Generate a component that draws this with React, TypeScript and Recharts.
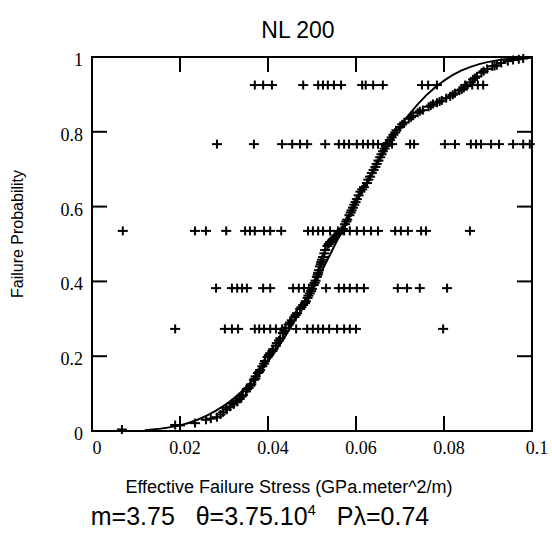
import React from "react";
import { ComposedChart, XAxis, YAxis, Scatter, Line } from "recharts";

// ---- data ----
const xTicks = [0, 0.02, 0.04, 0.06, 0.08, 0.1];
const xTickLabels = ["0", "0.02", "0.04", "0.06", "0.08", "0.1"];
const yTicks = [0, 0.2, 0.4, 0.6, 0.8, 1];
const yTickLabels = ["0", "0.2", "0.4", "0.6", "0.8", "1"];
const xInnerTicks = [0.02, 0.04, 0.06, 0.08];
const yInnerTicks = [0.2, 0.4, 0.6, 0.8];
const xDomain = [0, 0.1];
const yDomain = [0, 1];

// horizontal rows of points (probability level + stresses)
const rowLevels = [0.925, 0.767, 0.535, 0.382, 0.273];
const row1 = [0.037, 0.0389, 0.0409, 0.048, 0.0514, 0.0525, 0.0536, 0.055, 0.0566, 0.0614, 0.0622, 0.0639, 0.0661, 0.075, 0.0764, 0.0784, 0.0848, 0.0864, 0.0877, 0.0889];
const row2 = [0.0284, 0.0368, 0.0432, 0.0455, 0.0473, 0.0489, 0.053, 0.0561, 0.0573, 0.0584, 0.0602, 0.0616, 0.0627, 0.0639, 0.065, 0.0668, 0.0682, 0.0723, 0.0732, 0.0802, 0.0825, 0.0861, 0.0873, 0.0884, 0.0907, 0.0925, 0.0957, 0.098, 0.0995];
const row3 = [0.007, 0.0234, 0.0259, 0.0305, 0.0348, 0.0359, 0.037, 0.0391, 0.0405, 0.043, 0.0491, 0.0502, 0.0514, 0.0525, 0.0541, 0.0559, 0.0573, 0.0586, 0.0602, 0.0618, 0.0634, 0.065, 0.0689, 0.0702, 0.0718, 0.0748, 0.0759, 0.0859];
const row4 = [0.0282, 0.0318, 0.033, 0.0341, 0.0352, 0.0389, 0.0405, 0.0457, 0.047, 0.0482, 0.0493, 0.0532, 0.0561, 0.0573, 0.0586, 0.0602, 0.0618, 0.0695, 0.0716, 0.0745, 0.0807];
const row5 = [0.0189, 0.0302, 0.0318, 0.0332, 0.037, 0.038, 0.0391, 0.0405, 0.0418, 0.0432, 0.0464, 0.0489, 0.0502, 0.0514, 0.0525, 0.0539, 0.0557, 0.0573, 0.0586, 0.06, 0.0798];

// empirical failure probability points (stress, probability)
const empStress = [0.0068, 0.0189, 0.02, 0.0234, 0.0259, 0.027, 0.0284, 0.0292, 0.0298, 0.0306, 0.0314, 0.0322, 0.033, 0.0336, 0.0343, 0.035, 0.0356, 0.0362, 0.0368, 0.0372, 0.0377, 0.0382, 0.0387, 0.0393, 0.0399, 0.0405, 0.0412, 0.042, 0.0428, 0.0434, 0.044, 0.0447, 0.0454, 0.046, 0.0466, 0.0473, 0.048, 0.0486, 0.049, 0.0495, 0.05, 0.0504, 0.0508, 0.0511, 0.0514, 0.0518, 0.0521, 0.0525, 0.053, 0.0535, 0.0541, 0.0548, 0.0555, 0.0562, 0.057, 0.0575, 0.058, 0.0585, 0.059, 0.0596, 0.0602, 0.061, 0.0618, 0.0625, 0.0632, 0.064, 0.0647, 0.0655, 0.0661, 0.0668, 0.0677, 0.0685, 0.0692, 0.07, 0.071, 0.072, 0.073, 0.074, 0.0752, 0.0765, 0.0775, 0.0784, 0.0795, 0.0805, 0.0814, 0.0825, 0.0835, 0.0845, 0.0852, 0.086, 0.0866, 0.0875, 0.0885, 0.0898, 0.091, 0.092, 0.093, 0.0945, 0.0957, 0.097, 0.098,
  0.0305, 0.0318, 0.0328, 0.034, 0.0352, 0.036, 0.0371, 0.038, 0.0391, 0.0402, 0.041, 0.0418, 0.0425, 0.0437, 0.045, 0.0463, 0.0476, 0.0484, 0.0492, 0.0498, 0.0506, 0.0513, 0.0516, 0.052, 0.0523, 0.0528, 0.0538, 0.0545, 0.0552, 0.056, 0.0567, 0.0578, 0.0588, 0.0593, 0.0599, 0.0606, 0.0614, 0.0628, 0.0636, 0.0644, 0.0651, 0.0658, 0.0665, 0.0672, 0.0681, 0.0689, 0.0705, 0.0725, 0.0745, 0.077, 0.079, 0.082, 0.084, 0.087, 0.089, 0.0915];
const empProb = [0.004, 0.016, 0.015, 0.021, 0.03, 0.033, 0.037, 0.044, 0.05, 0.057, 0.065, 0.071, 0.078, 0.086, 0.096, 0.106, 0.115, 0.125, 0.137, 0.146, 0.155, 0.163, 0.173, 0.187, 0.198, 0.208, 0.219, 0.235, 0.248, 0.262, 0.275, 0.285, 0.296, 0.305, 0.315, 0.326, 0.337, 0.347, 0.356, 0.368, 0.38, 0.39, 0.402, 0.412, 0.423, 0.44, 0.452, 0.465, 0.484, 0.495, 0.505, 0.513, 0.523, 0.532, 0.54, 0.553, 0.565, 0.577, 0.59, 0.605, 0.62, 0.64, 0.652, 0.663, 0.68, 0.698, 0.714, 0.732, 0.748, 0.762, 0.778, 0.792, 0.804, 0.813, 0.825, 0.835, 0.843, 0.851, 0.858, 0.867, 0.874, 0.878, 0.884, 0.89, 0.895, 0.903, 0.91, 0.917, 0.922, 0.932, 0.94, 0.948, 0.958, 0.968, 0.975, 0.978, 0.984, 0.989, 0.992, 0.994, 0.996,
  0.062, 0.074, 0.082, 0.092, 0.112, 0.121, 0.14, 0.158, 0.18, 0.203, 0.214, 0.228, 0.242, 0.268, 0.29, 0.31, 0.331, 0.342, 0.362, 0.374, 0.396, 0.418, 0.43, 0.446, 0.458, 0.475, 0.5, 0.509, 0.518, 0.528, 0.536, 0.56, 0.584, 0.597, 0.612, 0.63, 0.646, 0.672, 0.69, 0.706, 0.723, 0.74, 0.755, 0.77, 0.785, 0.798, 0.82, 0.839, 0.855, 0.87, 0.881, 0.899, 0.913, 0.944, 0.962, 0.976];

// fitted curve
const fitStress = [0.012, 0.016, 0.02, 0.024, 0.028, 0.032, 0.036, 0.04, 0.044, 0.048, 0.052, 0.056, 0.06, 0.064, 0.068, 0.072, 0.076, 0.08, 0.084, 0.088, 0.092, 0.096, 0.1];
const fitProb = [0.002, 0.007, 0.015, 0.03, 0.053, 0.085, 0.129, 0.186, 0.255, 0.334, 0.423, 0.516, 0.609, 0.698, 0.778, 0.845, 0.898, 0.937, 0.964, 0.981, 0.991, 0.996, 0.998];

const rows = [row1, row2, row3, row4, row5];
const rowData = rows.flatMap((r, i) => r.map((x) => ({ x, y: rowLevels[i] })));
const empData = empStress.map((x, i) => ({ x, y: empProb[i] }));
const fitData = fitStress.map((x, i) => ({ x, y: fitProb[i] }));
const bottomTickData = xInnerTicks.map((x) => ({ x, y: yDomain[0] }));
const topTickData = xInnerTicks.map((x) => ({ x, y: yDomain[1] }));
const leftTickData = yInnerTicks.map((y) => ({ x: xDomain[0], y }));
const rightTickData = yInnerTicks.map((y) => ({ x: xDomain[1], y }));

// ---- layout ----
const W = 552;
const H = 550;
const PLOT = { left: 92, top: 57, right: 532, bottom: 431 };
const Y_AXIS_W = 40;
const X_AXIS_H = 30;
const SANS = "'Liberation Sans', Arial, sans-serif";
const SERIF = "'Liberation Serif', 'Times New Roman', serif";
const TICK = 15;
const FRAME = { stroke: "#000", strokeWidth: 2 };

const Cross = (props: any) => {
  const { cx, cy } = props;
  if (cx == null || cy == null) return <g />;
  return (
    <g stroke="#000" strokeWidth={2}>
      <line x1={cx - 5} y1={cy} x2={cx + 5} y2={cy} />
      <line x1={cx} y1={cy - 4.5} x2={cx} y2={cy + 4.5} />
    </g>
  );
};
const makeTick = (dx: number, dy: number) => (props: any) => {
  const { cx, cy } = props;
  if (cx == null || cy == null) return <g />;
  return <line x1={cx} y1={cy} x2={cx + dx} y2={cy + dy} stroke="#000" strokeWidth={2} />;
};
const UpTick = makeTick(0, -TICK);
const DownTick = makeTick(0, TICK);
const RightwardTick = makeTick(TICK, 0);
const LeftwardTick = makeTick(-TICK, 0);

const BottomLabel = (props: any) => {
  const { x, y, payload, index } = props;
  return (
    <text x={x + 5} y={y + 17} textAnchor="middle" dominantBaseline="central" fontFamily={SERIF} fontSize={18} fill="#000">
      {xTickLabels[index] ?? String(payload.value)}
    </text>
  );
};
const LeftLabel = (props: any) => {
  const { x, y, payload, index } = props;
  return (
    <text x={x - 9} y={y + 3} textAnchor="end" dominantBaseline="central" fontFamily={SERIF} fontSize={18} fill="#000">
      {yTickLabels[index] ?? String(payload.value)}
    </text>
  );
};

export default function App() {
  return (
    <div style={{ position: "absolute", left: 0, top: 0, width: W, height: H, background: "#fff" }}>
      <ComposedChart
        width={W}
        height={H}
        margin={{ top: PLOT.top - 1, right: W - PLOT.right - 1, bottom: H - PLOT.bottom - X_AXIS_H, left: PLOT.left - Y_AXIS_W }}
      >
        <XAxis
          dataKey="x"
          type="number"
          domain={xDomain}
          ticks={xTicks}
          height={X_AXIS_H}
          tickSize={0}
          tickMargin={0}
          tick={<BottomLabel />}
          stroke="#000"
          axisLine={FRAME}
          tickLine={false}
          interval={0}
        />
        <XAxis
          xAxisId="top"
          orientation="top"
          dataKey="x"
          type="number"
          domain={xDomain}
          ticks={xTicks}
          height={1}
          tick={false}
          stroke="#000"
          axisLine={FRAME}
          tickLine={false}
        />
        <YAxis
          dataKey="y"
          type="number"
          domain={yDomain}
          ticks={yTicks}
          width={Y_AXIS_W}
          tickSize={0}
          tickMargin={0}
          tick={<LeftLabel />}
          stroke="#000"
          axisLine={FRAME}
          tickLine={false}
          interval={0}
        />
        <YAxis
          yAxisId="right"
          orientation="right"
          dataKey="y"
          type="number"
          domain={yDomain}
          ticks={yTicks}
          width={1}
          tick={false}
          stroke="#000"
          axisLine={FRAME}
          tickLine={false}
        />
        <Scatter data={bottomTickData} dataKey="y" shape={<UpTick />} isAnimationActive={false} />
        <Scatter data={topTickData} dataKey="y" shape={<DownTick />} isAnimationActive={false} />
        <Scatter data={leftTickData} dataKey="y" shape={<RightwardTick />} isAnimationActive={false} />
        <Scatter data={rightTickData} dataKey="y" shape={<LeftwardTick />} isAnimationActive={false} />
        <Line data={fitData} dataKey="y" type="monotone" stroke="#000" strokeWidth={2} dot={false} activeDot={false} isAnimationActive={false} />
        <Scatter data={empData} dataKey="y" shape={<Cross />} isAnimationActive={false} />
        <Scatter data={rowData} dataKey="y" shape={<Cross />} isAnimationActive={false} />
      </ComposedChart>
      {/* plot frame (same rectangle as the axis lines) */}
      <div
        style={{
          position: "absolute",
          left: PLOT.left - 1,
          top: PLOT.top - 1,
          width: PLOT.right - PLOT.left + 2,
          height: PLOT.bottom - PLOT.top + 2,
          border: "2px solid #000",
          boxSizing: "border-box",
          pointerEvents: "none",
        }}
      />
      <div style={{ position: "absolute", left: 298, top: 30, transform: "translate(-50%,-50%)", fontFamily: SANS, fontSize: 23, whiteSpace: "nowrap", color: "#000" }}>
        NL 200
      </div>
      <div style={{ position: "absolute", left: 18, top: 234, transform: "translate(-50%,-50%) rotate(-90deg)", fontFamily: SANS, fontSize: 16, whiteSpace: "nowrap", color: "#000" }}>
        Failure Probability
      </div>
      <div style={{ position: "absolute", left: 289, top: 487, transform: "translate(-50%,-50%)", fontFamily: SANS, fontSize: 18, whiteSpace: "nowrap", color: "#000" }}>
        Effective Failure Stress (GPa.meter^2/m)
      </div>
      <div style={{ position: "absolute", left: 260, top: 516, transform: "translate(-50%,-50%)", fontFamily: SANS, fontSize: 25, whiteSpace: "pre", color: "#000" }}>
        {"m=3.75   θ=3.75.10"}
        <sup style={{ fontSize: 15 }}>4</sup>
        {"   Pλ=0.74"}
      </div>
    </div>
  );
}
